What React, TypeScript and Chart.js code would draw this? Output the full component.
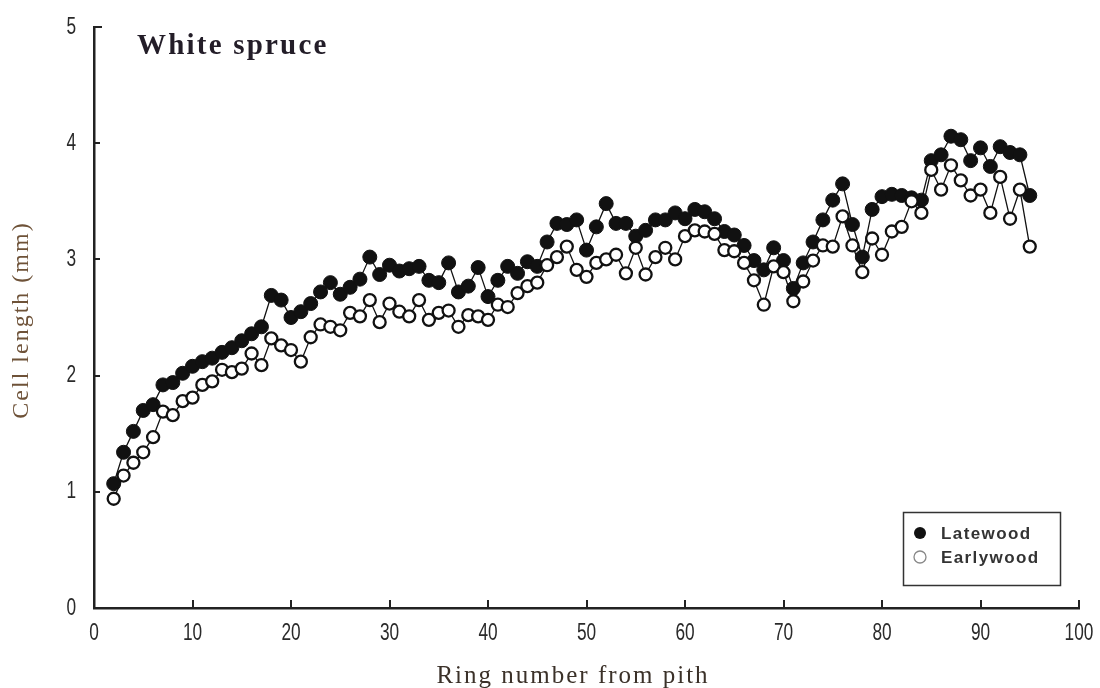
import React, { useEffect, useRef } from "react";
import { Chart, registerables } from "chart.js";

Chart.register(...registerables);

const rings = [
  2, 3, 4, 5, 6, 7, 8, 9, 10, 11, 12, 13, 14, 15, 16, 17, 18, 19, 20, 21,
  22, 23, 24, 25, 26, 27, 28, 29, 30, 31, 32, 33, 34, 35, 36, 37, 38, 39, 40, 41,
  42, 43, 44, 45, 46, 47, 48, 49, 50, 51, 52, 53, 54, 55, 56, 57, 58, 59, 60, 61,
  62, 63, 64, 65, 66, 67, 68, 69, 70, 71, 72, 73, 74, 75, 76, 77, 78, 79, 80, 81,
  82, 83, 84, 85, 86, 87, 88, 89, 90, 91, 92, 93, 94, 95,
];

const latewood = [
  1.07, 1.34, 1.52, 1.7, 1.75, 1.92, 1.94, 2.02, 2.08, 2.12, 2.15, 2.2, 2.24, 2.3, 2.36, 2.42, 2.69, 2.65, 2.5, 2.55,
  2.62, 2.72, 2.8, 2.7, 2.76, 2.83, 3.02, 2.87, 2.95, 2.9, 2.92, 2.94, 2.82, 2.8, 2.97, 2.72, 2.77, 2.93, 2.68, 2.82,
  2.94, 2.88, 2.98, 2.94, 3.15, 3.31, 3.3, 3.34, 3.08, 3.28, 3.48, 3.31, 3.31, 3.2, 3.25, 3.34, 3.34, 3.4, 3.35, 3.43,
  3.41, 3.35, 3.24, 3.21, 3.12, 2.99, 2.91, 3.1, 2.99, 2.75, 2.97, 3.15, 3.34, 3.51, 3.65, 3.3, 3.02, 3.43, 3.54, 3.56,
  3.55, 3.53, 3.51, 3.85, 3.9, 4.06, 4.03, 3.85, 3.96, 3.8, 3.97, 3.92, 3.9, 3.55,
];

const earlywood = [
  0.94, 1.14, 1.25, 1.34, 1.47, 1.69, 1.66, 1.78, 1.81, 1.92, 1.95, 2.05, 2.03, 2.06, 2.19, 2.09, 2.32, 2.26, 2.22, 2.12,
  2.33, 2.44, 2.42, 2.39, 2.54, 2.51, 2.65, 2.46, 2.62, 2.55, 2.51, 2.65, 2.48, 2.54, 2.56, 2.42, 2.52, 2.51, 2.48, 2.61,
  2.59, 2.71, 2.77, 2.8, 2.95, 3.02, 3.11, 2.91, 2.85, 2.97, 3.0, 3.04, 2.88, 3.1, 2.87, 3.02, 3.1, 3.0, 3.2, 3.25,
  3.24, 3.22, 3.08, 3.07, 2.97, 2.82, 2.61, 2.94, 2.89, 2.64, 2.81, 2.99, 3.12, 3.11, 3.37, 3.12, 2.89, 3.18, 3.04, 3.24,
  3.28, 3.5, 3.4, 3.77, 3.6, 3.81, 3.68, 3.55, 3.6, 3.4, 3.71, 3.35, 3.6, 3.11,
];

const xTicks = [0, 10, 20, 30, 40, 50, 60, 70, 80, 90, 100];
const yTicks = [0, 1, 2, 3, 4, 5];
const chartTitle = "White spruce";
const xTitle = "Ring number from pith";
const yTitle = "Cell length (mm)";
const legendLabels = ["Latewood", "Earlywood"];

export default function App() {
  const ref = useRef<HTMLCanvasElement>(null);

  useEffect(() => {
    document.body.style.margin = "0";
    const canvas = ref.current;
    if (!canvas) return;

    const drawNarrow = (ctx: CanvasRenderingContext2D, text: string, x: number, y: number, align: "center" | "right") => {
      ctx.save();
      ctx.translate(x, y);
      ctx.scale(0.72, 1);
      ctx.textAlign = align;
      ctx.textBaseline = "middle";
      ctx.fillText(text, 0, 0);
      ctx.restore();
    };

    const overlay = {
      id: "overlay",
      afterDraw(chart: any) {
        const ctx = chart.ctx as CanvasRenderingContext2D;
        const xs = chart.scales.x;
        const ys = chart.scales.y;
        const area = chart.chartArea;
        ctx.save();
        // inward ticks
        ctx.strokeStyle = "#222";
        ctx.lineWidth = 2;
        xTicks.forEach((v) => {
          if (v === 0) return;
          const px = Math.round(xs.getPixelForValue(v));
          ctx.beginPath();
          ctx.moveTo(px, area.bottom);
          ctx.lineTo(px, area.bottom - 8);
          ctx.stroke();
        });
        yTicks.forEach((v) => {
          if (v === 0) return;
          const py = Math.round(ys.getPixelForValue(v));
          ctx.beginPath();
          ctx.moveTo(area.left, py);
          ctx.lineTo(area.left + (v === 5 ? 8 : 6), py);
          ctx.stroke();
        });

        // tick labels (condensed)
        ctx.fillStyle = "#2a2a2a";
        ctx.font = "24px 'Liberation Sans', Arial, sans-serif";
        xTicks.forEach((v) => {
          drawNarrow(ctx, String(v), xs.getPixelForValue(v), 633, "center");
        });
        yTicks.forEach((v) => {
          drawNarrow(ctx, String(v), 76, ys.getPixelForValue(v), "right");
        });

        // chart title
        ctx.fillStyle = "#231d28";
        ctx.font = "bold 29px 'Liberation Serif', 'Times New Roman', serif";
        (ctx as any).letterSpacing = "2.2px";
        ctx.textAlign = "left";
        ctx.textBaseline = "alphabetic";
        ctx.fillText(chartTitle, 137, 54);

        // x title
        ctx.fillStyle = "#3b3129";
        ctx.font = "25px 'Liberation Serif', 'Times New Roman', serif";
        (ctx as any).letterSpacing = "2px";
        ctx.textAlign = "center";
        ctx.textBaseline = "middle";
        ctx.fillText(xTitle, 573, 676);

        // y title
        ctx.save();
        ctx.translate(22, 320);
        ctx.rotate(-Math.PI / 2);
        ctx.fillStyle = "#6e5238";
        ctx.font = "24px 'Liberation Serif', 'Times New Roman', serif";
        (ctx as any).letterSpacing = "2px";
        ctx.fillText(yTitle, 0, 0);
        ctx.restore();

        // legend
        (ctx as any).letterSpacing = "1.4px";
        ctx.strokeStyle = "#333";
        ctx.lineWidth = 1.5;
        ctx.strokeRect(903.5, 512.5, 157, 73);
        ctx.fillStyle = "#111";
        ctx.beginPath();
        ctx.arc(920, 533, 6, 0, Math.PI * 2);
        ctx.fill();
        ctx.strokeStyle = "#888";
        ctx.lineWidth = 1.3;
        ctx.fillStyle = "#fff";
        ctx.beginPath();
        ctx.arc(920, 557, 6, 0, Math.PI * 2);
        ctx.fill();
        ctx.stroke();
        ctx.fillStyle = "#333";
        ctx.font = "bold 17px 'Liberation Sans', Arial, sans-serif";
        ctx.textAlign = "left";
        ctx.textBaseline = "middle";
        ctx.fillText(legendLabels[0], 941, 534);
        ctx.fillText(legendLabels[1], 941, 558);
        ctx.restore();
      },
    };

    const chart = new Chart(canvas, {
      type: "line",
      data: {
        datasets: [
          {
            label: legendLabels[0],
            data: rings.map((r, i) => ({ x: r, y: latewood[i] })),
            borderColor: "#111",
            borderWidth: 1.3,
            pointRadius: 7,
            pointBackgroundColor: "#111",
            pointBorderColor: "#111",
            pointBorderWidth: 1,
            tension: 0,
            order: 2,
          },
          {
            label: legendLabels[1],
            data: rings.map((r, i) => ({ x: r, y: earlywood[i] })),
            borderColor: "#111",
            borderWidth: 1.3,
            pointRadius: 6,
            pointBackgroundColor: "#fff",
            pointBorderColor: "#111",
            pointBorderWidth: 2.3,
            tension: 0,
            order: 1,
          },
        ],
      },
      options: {
        responsive: false,
        animation: false,
        devicePixelRatio: 1,
        layout: { padding: { top: 27, right: 21, bottom: 0, left: 0 } },
        plugins: { legend: { display: false }, tooltip: { enabled: false } },
        scales: {
          x: {
            type: "linear",
            min: 0,
            max: 100,
            afterBuildTicks: (s: any) => {
              s.ticks = xTicks.map((v) => ({ value: v }));
            },
            afterFit: (s: any) => {
              s.height = 80;
              s.paddingLeft = 0;
              s.paddingRight = 0;
            },
            grid: { display: false, drawTicks: false },
            border: { display: true, color: "#222", width: 2.5 },
            ticks: { display: false },
          },
          y: {
            type: "linear",
            min: 0,
            max: 5,
            afterBuildTicks: (s: any) => {
              s.ticks = yTicks.map((v) => ({ value: v }));
            },
            afterFit: (s: any) => {
              s.width = 94;
              s.paddingTop = 0;
              s.paddingBottom = 0;
            },
            grid: { display: false, drawTicks: false },
            border: { display: true, color: "#222", width: 2.5 },
            ticks: { display: false },
          },
        },
      },
      plugins: [overlay],
    } as any);

    return () => chart.destroy();
  }, []);

  return <canvas ref={ref} width={1100} height={688} style={{ display: "block" }} />;
}
